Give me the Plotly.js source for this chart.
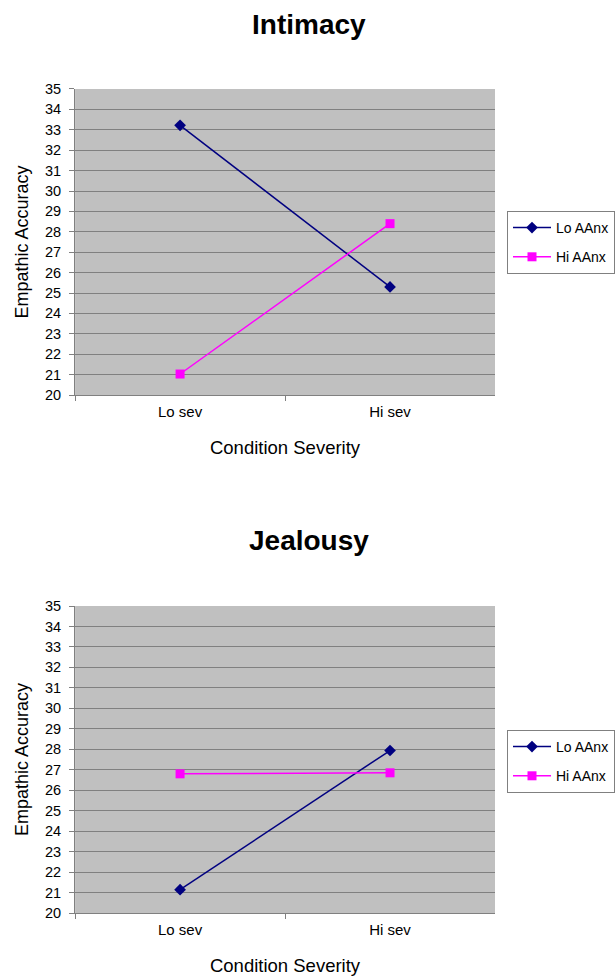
<!DOCTYPE html>
<html>
<head>
<meta charset="utf-8">
<script src="https://cdn.plot.ly/plotly-3.0.1.min.js"></script>
<style>html,body{margin:0;padding:0;background:#fff;}#chart{width:615px;height:979px;}</style>
</head>
<body>
<div id="chart"></div>
<script>
var categories = ["Lo sev", "Hi sev"];
var seriesNames = ["Lo AAnx", "Hi AAnx"];
var intimacyLo = [33.22, 25.3];
var intimacyHi = [21.03, 28.4];
var jealousyLo = [21.14, 27.94];
var jealousyHi = [26.8, 26.85];
var panelTitles = ["Intimacy", "Jealousy"];
var xTitle = "Condition Severity";
var yTitle = "Empathic Accuracy";

var FONT = "Liberation Sans, Arial, sans-serif";
var navy = "#000080", magenta = "#FF00FF";

function mk(y, name, color, symbol, xa, ya, leg) {
  return {
    x: categories, y: y, name: name, type: "scatter", mode: "lines+markers",
    xaxis: xa, yaxis: ya, legend: leg, legendgroup: name + leg,
    line: {color: color, width: 1.5},
    marker: {color: color, symbol: symbol, size: 9}
  };
}

var data = [
  mk(intimacyLo, seriesNames[0], navy, "diamond", "x", "y", "legend"),
  mk(intimacyHi, seriesNames[1], magenta, "square", "x", "y", "legend"),
  mk(jealousyLo, seriesNames[0], navy, "diamond", "x2", "y2", "legend2"),
  mk(jealousyHi, seriesNames[1], magenta, "square", "x2", "y2", "legend2")
];

function xaxis(dom, anchor) {
  return {
    domain: dom, anchor: anchor, type: "category", range: [-0.5, 1.5],
    tickson: "boundaries", ticks: "outside", ticklen: 5, tickcolor: "#808080",
    ticklabelstandoff: 3,
    showline: true, linecolor: "#808080", linewidth: 1, showgrid: false,
    tickfont: {family: FONT, size: 15, color: "#000"},
    title: {text: xTitle, font: {family: FONT, size: 18.5, color: "#000"}, standoff: 22},
    automargin: false, fixedrange: true
  };
}
function yaxis(dom, anchor) {
  return {
    domain: dom, anchor: anchor, range: [20, 35], dtick: 1, tick0: 20,
    ticks: "outside", ticklen: 5, tickcolor: "#808080",
    ticklabelstandoff: 5,
    showline: true, linecolor: "#808080", linewidth: 1,
    showgrid: true, gridcolor: "#808080", gridwidth: 1, zeroline: false,
    tickfont: {family: FONT, size: 14.5, color: "#000"},
    title: {text: yTitle, font: {family: FONT, size: 18, color: "#000"}, standoff: 11},
    automargin: false, fixedrange: true
  };
}

var legendBase = {
  xref: "paper", yref: "paper", xanchor: "left", yanchor: "top",
  bgcolor: "#fff", bordercolor: "#808080", borderwidth: 1,
  font: {family: FONT, size: 14, color: "#000"},
  traceorder: "grouped", tracegroupgap: 8, itemwidth: 38
};

var layout = {
  width: 615, height: 979,
  margin: {l: 0, r: 0, t: 0, b: 0},
  paper_bgcolor: "#fff", plot_bgcolor: "#C0C0C0",
  showlegend: true,
  xaxis: xaxis([0.1225, 0.8075], "y"),
  yaxis: yaxis([0.5965, 0.9091], "x"),
  xaxis2: xaxis([0.1225, 0.8075], "y2"),
  yaxis2: yaxis([0.0674, 0.381], "x2"),
  legend: Object.assign({x: 509/615, y: 1 - 211/979}, legendBase),
  legend2: Object.assign({x: 509/615, y: 1 - 730/979}, legendBase),
  annotations: [
    {text: "<b>" + panelTitles[0] + "</b>", xref: "paper", yref: "paper", x: 0.504, y: 1 - 24/979,
     xanchor: "center", yanchor: "middle", showarrow: false, font: {family: FONT, size: 28, color: "#000"}},
    {text: "<b>" + panelTitles[1] + "</b>", xref: "paper", yref: "paper", x: 0.504, y: 1 - 540/979,
     xanchor: "center", yanchor: "middle", showarrow: false, font: {family: FONT, size: 28, color: "#000"}}
  ]
};

Plotly.newPlot("chart", data, layout, {staticPlot: true, displayModeBar: false});
</script>
</body>
</html>
